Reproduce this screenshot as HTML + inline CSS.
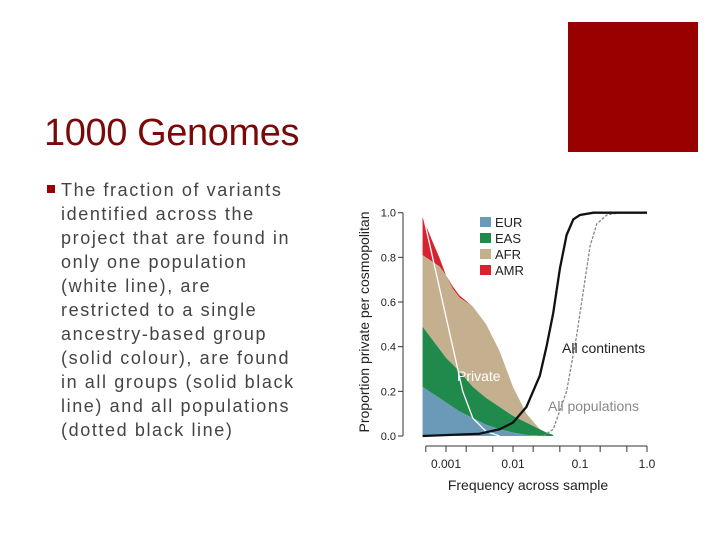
<!DOCTYPE html>
<html><head><meta charset="utf-8"><style>
body{margin:0;width:720px;height:540px;background:#fff;position:relative;overflow:hidden;font-family:"Liberation Sans",sans-serif}
#title{position:absolute;left:44px;top:112px;font-size:38px;color:#7a0a0a;letter-spacing:-0.4px;font-weight:normal;white-space:nowrap}
#rect{position:absolute;left:568px;top:22px;width:130px;height:130px;background:#990000}
#bullet{position:absolute;left:47px;top:185px;width:8px;height:8px;background:#990000}
#body{position:absolute;left:61px;top:178px;font-size:18px;line-height:24px;color:#444;white-space:nowrap;letter-spacing:1.6px}
svg{position:absolute;left:0;top:0}
</style></head><body>
<div id="rect"></div>
<div id="title">1000 Genomes</div>
<div id="bullet"></div>
<div id="body">The fraction of variants<br>identified across the<br>project that are found in<br>only one population<br>(white line), are<br>restricted to a single<br>ancestry-based group<br>(solid colour), are found<br>in all groups (solid black<br>line) and all populations<br>(dotted black line)</div>
<svg id="chart" width="720" height="540"></svg>
<script>
const logX=[-3.35,-3.2,-3.1,-3,-2.9,-2.8,-2.6,-2.4,-2.2,-2,-1.8,-1.6,-1.5,-1.4];
const eurTop=[0.22,0.19,0.17,0.15,0.13,0.11,0.08,0.05,0.03,0.015,0.005,0.002,0,0];
const easTop=[0.49,0.43,0.39,0.35,0.32,0.29,0.22,0.17,0.13,0.09,0.06,0.03,0.015,0.005];
const afrTop=[0.81,0.78,0.76,0.72,0.66,0.62,0.58,0.5,0.38,0.22,0.1,0.03,0.01,0.003];
const amrTop=[0.98,0.87,0.8,0.72,0.67,0.63,0.58,0.5,0.38,0.22,0.1,0.03,0.01,0.003];
const privX=[-3.35,-3.2,-3.05,-2.9,-2.75,-2.6,-2.4,-2.2];
const privY=[1.0,0.8,0.6,0.4,0.2,0.08,0.02,0];
const contX=[-3.35,-2.5,-2.2,-2,-1.8,-1.6,-1.5,-1.4,-1.3,-1.2,-1.1,-1,-0.8,0];
const contY=[0,0.01,0.03,0.06,0.13,0.27,0.4,0.55,0.75,0.9,0.97,0.99,1,1];
const popX=[-1.55,-1.4,-1.2,-1.05,-0.95,-0.85,-0.75,-0.6,-0.4,0];
const popY=[0,0.03,0.2,0.45,0.65,0.85,0.95,0.99,1,1];
const xTicks=[-3.301,-3,-2.699,-2.301,-2,-1.699,-1.301,-1,-0.699,-0.301,0];
const xLabels=[["0.001",-3],["0.01",-2],["0.1",-1],["1.0",0]];
const yTicks=[0,0.2,0.4,0.6,0.8,1.0];
const legend=[["EUR","#6a9ab8"],["EAS","#1f8a4c"],["AFR","#c4b08f"],["AMR","#d6232f"]];
const X=v=>580+(v+1)*67, Y=v=>436-223.3*v;
const svg=document.getElementById('chart');const NS='http://www.w3.org/2000/svg';
function mk(t,a,p){const e=document.createElementNS(NS,t);for(const k in a)e.setAttribute(k,a[k]);(p||svg).appendChild(e);return e;}
function area(top,bot,col,name){let d='M'+logX.map((x,i)=>X(x)+','+Y(top[i])).join('L');for(let i=logX.length-1;i>=0;i--)d+='L'+X(logX[i])+','+Y(bot?bot[i]:0);
const e=mk('path',{d:d+'Z',fill:col});

}
area(amrTop,afrTop,'#d6232f','area-amr');area(afrTop,easTop,'#c4b08f','area-afr');area(easTop,eurTop,'#1f8a4c','area-eas');area(eurTop,null,'#6a9ab8','area-eur');
function line(xs,ys,st,name){const e=mk('path',Object.assign({d:'M'+xs.map((x,i)=>X(x)+','+Y(ys[i])).join('L'),fill:'none'},st));

}
line(privX,privY,{stroke:'#fff','stroke-width':1.3},'private-line');
line(popX,popY,{stroke:'#888','stroke-width':1.3,'stroke-dasharray':'3,1.5'},'all-populations-line');
line(contX,contY,{stroke:'#111','stroke-width':2.3},'all-continents-line');
mk('line',{x1:403,y1:Y(0),x2:403,y2:Y(1),stroke:'#333'});
yTicks.forEach(v=>{mk('line',{x1:398,y1:Y(v),x2:403,y2:Y(v),stroke:'#333'});const t=mk('text',{x:396,y:Y(v)+4,'text-anchor':'end','font-size':11,fill:'#222'});t.textContent=v.toFixed(1);

});
mk('line',{x1:X(-3.301),y1:446,x2:X(0),y2:446,stroke:'#333'});
xTicks.forEach(v=>mk('line',{x1:X(v),y1:446,x2:X(v),y2:452,stroke:'#333'}));
xLabels.forEach(l=>{const t=mk('text',{x:X(l[1]),y:468,'text-anchor':'middle','font-size':12,fill:'#222'});t.textContent=l[0];

});
let t=mk('text',{x:528,y:490,'text-anchor':'middle','font-size':14,fill:'#222'});t.textContent='Frequency across sample';


t=mk('text',{x:0,y:0,'text-anchor':'middle','font-size':14,fill:'#222',transform:'translate(369,322) rotate(-90)'});t.textContent='Proportion private per cosmopolitan';


legend.forEach((l,i)=>{mk('rect',{x:480,y:217+i*16,width:11,height:10,fill:l[1]});const s=mk('text',{x:495,y:227+i*16,'font-size':13,fill:'#222'});s.textContent=l[0];

});
t=mk('text',{x:457,y:381,'font-size':14,fill:'#fff'});t.textContent='Private';

t=mk('text',{x:562,y:353,'font-size':14,fill:'#222'});t.textContent='All continents';

t=mk('text',{x:548,y:411,'font-size':14,fill:'#888'});t.textContent='All populations';

</script>
</body></html>
